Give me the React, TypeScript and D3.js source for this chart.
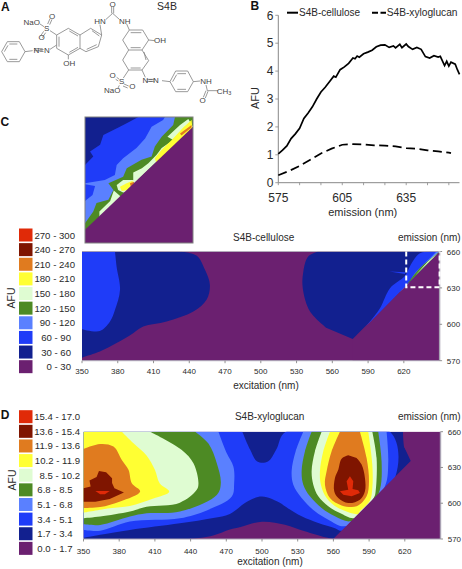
import React from "react";
import * as d3 from "d3";

type P = [number, number];

// ---------- panel B data ----------
const cellEm = [575,577,579,581,583,585,587,589,591,593,595,597,599,601,602,604,606,608,610,611,612,613,615,617,619,621,623,625,627,629,630,632,633,635,636,638,640,642,644,646,648,650,651,653,654,655,656,658,659,660];
const cellVal = [1.03,1.17,1.32,1.58,1.75,1.95,2.3,2.5,2.72,3.0,3.25,3.42,3.62,3.82,3.78,4.05,4.15,4.28,4.47,4.44,4.54,4.5,4.62,4.68,4.75,4.87,4.93,4.94,4.85,4.9,4.83,4.96,4.84,4.97,4.88,4.78,4.85,4.78,4.52,4.47,4.55,4.5,4.53,4.2,4.35,4.18,4.32,4.25,4.05,3.88];
const xyloEm = [575,580,585,590,595,600,605,610,615,620,625,630,635,640,645,650,655,656];
const xyloVal = [0.27,0.42,0.6,0.82,1.05,1.22,1.36,1.38,1.37,1.34,1.33,1.3,1.24,1.22,1.16,1.12,1.08,1.06];
const bYTicks = [0,1,2,3,4,5,6];
const bXLabels = [575,605,635];
const bXTicks = [575,585,595,605,615,625,635,645,655];

// ---------- legends ----------
const legendC = ["270 - 300","240 - 270","210 - 240","180 - 210","150 - 180","120 - 150","90 - 120","60 - 90","30 - 60","0 - 30"];
const legendD = ["15.4 - 17.0","13.6 - 15.4","11.9 - 13.6","10.2 - 11.9","8.5 - 10.2","6.8 - 8.5","5.1 - 6.8","3.4 - 5.1","1.7 - 3.4","0.0 - 1.7"];
const bandColors = ["#e02a08","#7f1500","#e07b1f","#ffff33","#dffcd2","#4d8a24","#5a80ff","#1f3cf8","#12208f","#6b2070"];
const RED=0,BROWN=1,ORANGE=2,YELLOW=3,PALE=4,GREEN=5,LTBLUE=6,BLUE=7,NAVY=8,PURPLE=9;

const emTicks = [660,630,600,570];
const exTicks = [350,380,410,440,470,500,530,560,590,620];

// ---------- panel C contour bands (excitation, emission) ----------
const cNavyLeft: P[] = [[350,572.5],[351,572.9],[365,577.6],[379,584.5],[392.9,592.7],[401.4,598.2],[421,602.3],[443.4,610.5],[454.5,620.2],[457.3,632.5],[453.2,644.9],[446,656.7],[430.8,660],[350,660]];
const cBlueLeft: P[] = [[350,596],[365,594.5],[373.5,602.3],[377.7,611.9],[381.9,628.4],[379,647.6],[377.7,660],[350,660]];
const cNavyRight: P[] = [[548.3,660],[539.9,656],[535.7,643.6],[535.2,629.8],[541.3,610.6],[555.3,596.9],[577.1,587.8],[650.3,660]];
const cBlueRight: P[] = [[646,660],[633.5,658.6],[626.5,650.4],[621,640],[608.4,629.8],[600,613.3],[591.6,602.3],[588,598],[650.3,660]];
const cBlueSpike: P[] = [[608,643.6],[621,643],[621,641.5]];
const cLtRight: P[] = [[647.5,660],[637.7,650.4],[629.3,642],[622.4,631],[616.8,626.8],[650.3,660]];
const cGreenRight: P[] = [[649.5,659.5],[633.5,646.3],[622.9,633],[650.3,660]];
const cPaleRight: P[] = [[648.5,659],[640,651.5],[633.5,644.5],[629.3,640],[645,655]];
const cMask: P[] = [[577,587],[650.3,660],[650.3,570],[577,570]];

// ---------- panel C inset bands ----------
const iBlue: P[] = [[634.8,660],[650,660],[650,630],[620,630],[620,648.6],[622.3,650.6],[621.4,651.8],[624.2,653.4],[625.1,655.7],[629.7,657.7],[632.5,658.9]];
const iLt: P[] = [[642.2,660],[641.7,659.3],[638.5,657.7],[636.7,654.9],[634.3,652.6],[630.6,650.2],[628.8,648.6],[628.3,646.2],[625.5,645],[620,644.2],[620,630],[650,630],[650,660]];
const iPocket: P[] = [[620,644],[622.8,643.6],[622.1,641.4],[620,640]];
const iGreen: P[] = [[645,660],[644.5,658.1],[641.3,655.3],[639.4,653],[638.5,650.6],[635.7,649.8],[631.6,647.8],[630.6,645.8],[626.5,644.2],[627.9,642.6],[626.5,640.3],[623.2,639.5],[622.3,637.5],[620,634.7],[620,630],[650,630],[650,660]];
const iPaleA: P[] = [[648.7,659.5],[646.4,658.1],[642.9,655.3],[644.5,654.5],[641.3,652.6],[639.9,651],[637.6,649],[635.8,647.8],[633.4,646.8],[633.4,644],[650,657.7]];
const iPaleB: P[] = [[633.9,645],[630.6,645],[628.8,643.8],[629.2,642.6],[630.6,642],[632.5,642.2]];
const iPaleC: P[] = [[628,642.5],[627,640],[624,637.5],[624,636],[630,641]];
const iYellowA: P[] = [[649.6,659.3],[647.3,657.5],[644.1,654.5],[641.3,652.2],[639.4,650.2],[640,648.5],[650,656]];
const iYellowB: P[] = [[633.4,644.9],[631.6,644.2],[629.7,643.4],[630.2,642.4],[632,642.6]];
const iOrangeA: P[] = [[649.6,658.1],[646.4,656.1],[646.8,655.6],[649.6,657.5]];
const iOrangeB: P[] = [[633.6,644.6],[632.5,644.2],[632.7,643.4],[633.6,644]];
const iMask: P[] = [[619.9,633.1],[650,657.7],[650,630],[620,630]];

// ---------- panel D contour bands ----------
const dNavy: P[] = [[350,570],[437,570],[459,573],[473,578],[482,580],[500,584.5],[519.3,582],[536,576.4],[553,571.4],[560,570],[626,636],[619.3,647.5],[618.5,660],[350,660]];
const dBlue: P[] = [[350,571],[364,573.5],[389,577.6],[431,583.2],[459,587.6],[473,591],[487.7,601.5],[500,605.6],[515.7,600],[519.3,597.4],[533.3,589],[547.3,583.4],[561.3,579],[567,577],[612,622],[607.5,660],[520,660],[512,645],[505,635],[496,635],[490,645],[483.5,660],[350,660]];
const dLtLeft: P[] = [[350,577.6],[364,577],[389,584.6],[431,587.4],[453.6,594],[474.6,605.6],[476.6,616.8],[476,630.7],[470.4,642],[463.4,660],[350,660]];
const dLtRight: P[] = [[534.7,660],[528.3,643.5],[524.9,626.8],[526.3,615.6],[533.3,604.4],[544.5,593.2],[555.7,586.2],[568.3,580.6],[580,585],[603.3,614.2],[606.1,635.1],[604.7,660]];
const dGreenLeft: P[] = [[350,582.3],[364,581.8],[389,588.8],[403,591.5],[431,593],[462,607],[465.4,616.8],[462,633.5],[455,650],[443.8,660],[350,660]];
const dGreenRight: P[] = [[541.7,660],[536.1,643.5],[533.3,626.8],[534.7,615.6],[540.3,605.8],[550.1,596],[561.3,589],[573.9,584.8],[590,595],[599,611],[600.5,635.1],[597.7,660]];
const dPaleLeft: P[] = [[350,587.4],[364,588.8],[389,593],[403,597],[431,600.5],[445,611],[446.6,616.8],[442.4,633.5],[432.6,644.7],[406,660],[350,660]];
const dPaleRight: P[] = [[550.1,660],[544.5,643.5],[541.7,626.8],[543.1,615.6],[547.3,605.8],[555.7,597.4],[565.5,591.8],[578.1,587.6],[594.3,605.2],[595.5,610],[596.3,638],[592.7,660]];
const dYellowLeft: P[] = [[350,592],[372,595.7],[389,597.7],[408.7,604],[422,609.7],[414,616.7],[410,628],[403,640],[392,650.3],[382.2,660],[350,660]];
const dYellowRight: P[] = [[557.1,660],[551.5,643.5],[548.7,626.8],[549.5,615.6],[554.3,604.4],[564.1,596],[580.9,591],[582.3,593.2],[590.7,602.1],[592.7,612.8],[592.7,632.4],[589.3,660]];
const dOrangeLeft: P[] = [[350,596],[364,596.8],[380.8,601.5],[397.6,609.9],[390.6,616.8],[387.8,628],[382.2,636.3],[375.2,647.5],[364,649.7],[350,645.5]];
const dOrangeRight: P[] = [[565.5,660],[558.5,643.5],[554.3,626.8],[552.9,615.6],[557.1,604.4],[566.9,598.2],[579.5,597.4],[587.9,605.8],[589.9,618.4],[587.9,638],[582.3,660]];
const dBrownLeft: P[] = [[350,601.3],[360,601.3],[372,603.5],[384,609],[376,612.5],[374,617],[374,621],[369,626],[363,627],[361,622],[355,619],[356,614],[350,612.5]];
const dBrownRight: P[] = [[572.5,640.2],[566.9,637.4],[564.1,628.1],[561.3,621.2],[560.7,610],[564.1,604.4],[572.5,600.2],[582.3,603],[586.5,610],[586.5,621.2],[583.7,632.4],[579.5,637.9]];
const dRedLeft: P[] = [[360,610.3],[372,610.3],[368,607.5],[364,607.5]];
const dRedRight: P[] = [[573.9,622.6],[571.1,618.4],[572.5,611.4],[565.5,610],[568.3,607.2],[575.3,605.8],[582.3,608.6],[580.9,610.8],[576.1,612],[576.7,618.4]];
const dMask: P[] = [[560,570],[650,570],[650,660],[618.5,660],[619.3,647.5],[625,635.5]];

// ---------- panel A structure, in reference-crop units ----------
const bonds: number[][] = [
  [5,155,22,125],[22,125,58,125],[58,125,75,155],[75,155,58,185],[58,185,22,185],[22,185,5,155],
  [28,132,52,132],[28,178,52,178],[13,155,24,136],[75,155,98,152],[102,146,128,146],[102,152,128,152],[150,148,170,135],
  [170,105,205,85],[205,85,240,105],[240,105,240,145],[240,145,205,165],[205,165,170,145],[170,145,170,105],[177,110,177,140],[208,93,234,108],[208,157,234,142],
  [240,105,272,85],[272,85,305,105],[305,105,295,140],[295,140,258,155],[258,155,240,145],[276,92,298,108],[260,148,290,134],
  [170,105,150,92],[143,72,150,56],[149,74,156,58],[137,98,127,113],[131,94,121,109],[120,72,132,80],
  [305,105,300,74],[318,58,338,40],[338,40,358,58],[335,40,335,20],[341,40,341,20],[380,72,388,90],
  [388,90,428,90],[428,90,446,120],[446,120,426,150],[426,150,386,150],[386,150,368,120],[368,120,388,90],[392,98,424,98],[392,143,422,143],
  [426,150,446,182],[446,182,426,210],[426,210,386,210],[386,210,368,180],[368,180,386,150],[432,156,438,180],[392,204,422,204],
  [446,120,464,122],[205,165,205,178],[386,210,370,234],[350,232,358,238],[347,238,355,243],[372,252,386,258],[369,258,383,264],[358,256,354,264],
  [426,210,436,232],[440,238,464,238],[440,244,464,244],[486,242,510,245],
  [510,245,527,213],[527,213,563,213],[563,213,580,245],[580,245,563,275],[563,275,527,275],[527,275,510,245],[532,221,558,221],[532,268,558,268],[518,245,530,224],
  [580,245,600,243],[618,255,622,272],[622,272,655,272],[618,272,610,292],[624,274,616,294],
];
const atoms: [string, number, number][] = [
  ["N=N",125,160],["NaO",95,76],["S",140,92],["O",156,57],["O",125,121],["OH",208,198],["HN",300,71],["O",338,20],["NH",374,71],
  ["OH",480,130],["S",365,252],["O",338,235],["O",397,267],["NaO",337,280],["N=N",452,250],["NH",618,251],["O",608,310],["CH",672,282],
];

const ink = "#2a2a2a";
const sans = "'Liberation Sans', Arial, sans-serif";
const axisGrey = "#a9a2b3";

const bX = d3.scaleLinear().domain([575, 660]).range([278.3, 452.9 + 6.6]);
const bY = d3.scaleLinear().domain([0, 6]).range([182.7, 15.3]);
const cX = d3.scaleLinear().domain([350, 650]).range([82, 439.6]);
const cY = d3.scaleLinear().domain([570, 660]).range([360.7, 251.5]);
const iX = d3.scaleLinear().domain([620, 650]).range([85, 193]);
const iY = d3.scaleLinear().domain([630, 660]).range([243, 117]);
const dX = d3.scaleLinear().domain([350, 650]).range([83.5, 440.5]);
const dY = d3.scaleLinear().domain([570, 660]).range([539, 431.7]);
const aS = d3.scaleLinear().domain([0, 720]).range([0, 240]);

// keep = how many trailing points stay straight; keep < 0 leaves the whole band angular.
function Band({ pts, i, x, y, keep = -1 }: { pts: P[]; i: number; x: d3.ScaleLinear<number, number>; y: d3.ScaleLinear<number, number>; keep?: number }) {
  const straight = d3.line<P>().x((d) => x(d[0])).y((d) => y(d[1]));
  let d: string;
  if (keep < 0) {
    d = (straight(pts) ?? "") + "Z";
  } else {
    const run = pts.slice(0, pts.length - keep);
    const rest = pts.slice(pts.length - keep);
    const curved = d3.line<P>().x((q) => x(q[0])).y((q) => y(q[1])).curve(d3.curveCatmullRom.alpha(0.5))(run) ?? "";
    d = curved + rest.map((q) => `L${x(q[0])},${y(q[1])}`).join("") + "Z";
  }
  return <path d={d} fill={bandColors[i]} />;
}

function Legend({ labels, top, full, lo, hi }: { labels: string[]; top: number; full: number; lo: number; hi: number }) {
  return (
    <g fontFamily={sans} fontSize={9.6} fill={ink}>
      {labels.map((l, k) => {
        const cy = top + k * 14.63;
        return (
          <g key={l}>
            <rect x={19} y={cy - 6.5} width={13.5} height={13} fill={bandColors[k]} />
            <text x={l.length >= full ? hi : lo} y={cy + 3.5} textAnchor="end">{l}</text>
          </g>
        );
      })}
    </g>
  );
}

function Heat({ x, y, bottomY, rightX, title, titleX, titleY, xLabelX, xLabelY, tickY }: any) {
  return (
    <g fontFamily={sans} fill={ink}>
      <line x1={rightX} x2={rightX} y1={y(660)} y2={y(570)} stroke={axisGrey} strokeWidth={1.4} />
      <line x1={x(350)} x2={rightX} y1={bottomY} y2={bottomY} stroke={axisGrey} strokeWidth={1} />
      {emTicks.map((t) => (
        <g key={t}>
          <line x1={rightX} x2={rightX + 2.5} y1={y(t)} y2={y(t)} stroke="#777" strokeWidth={0.8} />
          <text x={rightX + 7.2} y={y(t) + 3} fontSize={8}>{t}</text>
        </g>
      ))}
      {exTicks.map((t) => (
        <g key={t}>
          <line x1={x(t)} x2={x(t)} y1={bottomY} y2={bottomY + 2.5} stroke="#777" strokeWidth={0.8} />
          <text x={x(t)} y={tickY} fontSize={8} textAnchor="middle">{t}</text>
        </g>
      ))}
      <text x={titleX} y={titleY} fontSize={10} textAnchor="middle">{title}</text>
      <text x={460.7} y={titleY} fontSize={10} textAnchor="end">emission (nm)</text>
      <text x={xLabelX} y={xLabelY} fontSize={10} textAnchor="middle">excitation (nm)</text>
    </g>
  );
}

export default function App() {
  const cellLine = d3.line<number>().x((_, k) => bX(cellEm[k])).y((d) => bY(d));
  const xyloLine = d3.line<number>().x((_, k) => bX(xyloEm[k])).y((d) => bY(d));
  return (
    <svg width={462} height={569} viewBox="0 0 462 569" style={{ position: "absolute", left: 0, top: 0, background: "#fff" }}>
      <defs>
        <clipPath id="cc"><rect x={cX(350)} y={cY(660)} width={cX(650) - cX(350)} height={cY(570) - cY(660)} /></clipPath>
        <clipPath id="ci"><rect x={iX(620)} y={iY(660)} width={iX(650) - iX(620)} height={iY(630) - iY(660)} /></clipPath>
        <clipPath id="cd"><rect x={dX(350)} y={dY(660)} width={dX(650) - dX(350)} height={dY(570) - dY(660)} /></clipPath>
      </defs>

      {/* Panel letters */}
      <g fontFamily={sans} fontWeight="bold" fontSize={12} fill="#111">
        <text x={1} y={11}>A</text>
        <text x={250.5} y={9.8}>B</text>
        <text x={0.5} y={125.7}>C</text>
        <text x={0.8} y={419}>D</text>
      </g>

      {/* Panel A */}
      <g stroke="#808080" strokeWidth={0.8} fill="none">
        {bonds.map((b, k) => (
          <line key={k} x1={aS(b[0])} y1={aS(b[1])} x2={aS(b[2])} y2={aS(b[3])} />
        ))}
      </g>
      <g fontFamily={sans} fontSize={8} fill="#444" textAnchor="middle">
        {atoms.map(([t, x, y], k) => (
          <text key={k} x={aS(x)} y={aS(y)}>
            {t}
            {t === "CH" ? <tspan fontSize={5.5} dy={1}>3</tspan> : null}
          </text>
        ))}
      </g>
      <text x={167} y={9.5} fontFamily={sans} fontSize={10.5} fill={ink} textAnchor="middle">S4B</text>

      {/* Panel B */}
      <g fontFamily={sans} fill={ink}>
        <line x1={bX(575)} x2={bX(575)} y1={bY(0)} y2={bY(6)} stroke="#888" strokeWidth={1} />
        <line x1={bX(575)} x2={bX(660)} y1={bY(0)} y2={bY(0)} stroke="#888" strokeWidth={1} />
        {bYTicks.map((t) => (
          <g key={t}>
            <line x1={bX(575) - 3} x2={bX(575)} y1={bY(t)} y2={bY(t)} stroke="#888" strokeWidth={0.8} />
            <text x={273.5} y={bY(t) + 4.2} fontSize={12} textAnchor="end">{t}</text>
          </g>
        ))}
        {bXTicks.map((t) => (
          <line key={t} x1={bX(t)} x2={bX(t)} y1={bY(0)} y2={bY(0) + 2.5} stroke="#888" strokeWidth={0.8} />
        ))}
        {bXLabels.map((t) => (
          <text key={t} x={bX(t)} y={201.5} fontSize={12} textAnchor="middle">{t}</text>
        ))}
        <text x={362.7} y={215.5} fontSize={11} textAnchor="middle">emission (nm)</text>
        <text transform="translate(259,98) rotate(-90)" fontSize={11} textAnchor="middle">AFU</text>
        <line x1={287} x2={298} y1={12.7} y2={12.7} stroke="#000" strokeWidth={2} />
        <text x={299} y={16} fontSize={10}>S4B-cellulose</text>
        <line x1={372} x2={386} y1={12.7} y2={12.7} stroke="#000" strokeWidth={2} strokeDasharray="6,2.5" />
        <text x={386.7} y={16} fontSize={10.2}>S4B-xyloglucan</text>
      </g>
      <path d={cellLine(cellVal) ?? ""} fill="none" stroke="#000" strokeWidth={1.7} />
      <path d={xyloLine(xyloVal) ?? ""} fill="none" stroke="#000" strokeWidth={1.7} strokeDasharray="9,4.5" />

      {/* Panel C inset */}
      <g clipPath="url(#ci)">
        <rect x={iX(620)} y={iY(660)} width={iX(650) - iX(620)} height={iY(630) - iY(660)} fill={bandColors[NAVY]} />
        <Band pts={iBlue} i={BLUE} x={iX} y={iY} />
        <Band pts={iLt} i={LTBLUE} x={iX} y={iY} />
        <Band pts={iPocket} i={BLUE} x={iX} y={iY} />
        <Band pts={iGreen} i={GREEN} x={iX} y={iY} />
        <Band pts={iPaleA} i={PALE} x={iX} y={iY} />
        <Band pts={iPaleB} i={PALE} x={iX} y={iY} />
        <Band pts={iPaleC} i={PALE} x={iX} y={iY} />
        <Band pts={iYellowA} i={YELLOW} x={iX} y={iY} />
        <Band pts={iYellowB} i={YELLOW} x={iX} y={iY} />
        <Band pts={iOrangeA} i={ORANGE} x={iX} y={iY} />
        <Band pts={iOrangeB} i={ORANGE} x={iX} y={iY} />
        <Band pts={iMask} i={PURPLE} x={iX} y={iY} />
      </g>
      <rect x={iX(620)} y={iY(660)} width={iX(650) - iX(620)} height={iY(630) - iY(660)} fill="none" stroke="#808080" strokeWidth={1} />

      {/* Panel C main */}
      <Legend labels={legendC} top={235} full={8} lo={71} hi={75} />
      <text transform="translate(15,298) rotate(-90)" fontFamily={sans} fontSize={10.5} fill={ink} textAnchor="middle">AFU</text>
      <g clipPath="url(#cc)">
        <rect x={cX(350)} y={cY(660)} width={cX(650) - cX(350)} height={cY(570) - cY(660)} fill={bandColors[PURPLE]} />
        <Band pts={cNavyLeft} i={NAVY} x={cX} y={cY} keep={1} />
        <Band pts={cBlueLeft} i={BLUE} x={cX} y={cY} keep={1} />
        <Band pts={cNavyRight} i={NAVY} x={cX} y={cY} keep={2} />
        <Band pts={cBlueRight} i={BLUE} x={cX} y={cY} keep={1} />
        <Band pts={cBlueSpike} i={BLUE} x={cX} y={cY} />
        <Band pts={cLtRight} i={LTBLUE} x={cX} y={cY} keep={1} />
        <Band pts={cGreenRight} i={GREEN} x={cX} y={cY} keep={1} />
        <Band pts={cPaleRight} i={PALE} x={cX} y={cY} />
        <Band pts={cMask} i={PURPLE} x={cX} y={cY} />
      </g>
      <line x1={cX(350)} x2={cX(650)} y1={cY(660)} y2={cY(660)} stroke={axisGrey} strokeWidth={0.8} />
      <Heat x={cX} y={cY} bottomY={cY(570)} rightX={cX(650)} title="S4B-cellulose" titleX={263.7} titleY={241} xLabelX={266} xLabelY={389} tickY={373.5} />
      <path d={`M${cX(622)},${cY(660)}V${cY(630.5)}H${cX(650)}V${cY(660)}`} fill="none" stroke="#fff" strokeWidth={2} strokeDasharray="5,3" />

      {/* Panel D */}
      <Legend labels={legendD} top={416.7} full={10} lo={72.5} hi={80} />
      <text transform="translate(16,480) rotate(-90)" fontFamily={sans} fontSize={10.5} fill={ink} textAnchor="middle">AFU</text>
      <g clipPath="url(#cd)">
        <rect x={dX(350)} y={dY(660)} width={dX(650) - dX(350)} height={dY(570) - dY(660)} fill={bandColors[PURPLE]} />
        <Band pts={dNavy} i={NAVY} x={dX} y={dY} keep={4} />
        <Band pts={dBlue} i={BLUE} x={dX} y={dY} keep={1} />
        <Band pts={dLtLeft} i={LTBLUE} x={dX} y={dY} keep={1} />
        <Band pts={dLtRight} i={LTBLUE} x={dX} y={dY} keep={0} />
        <Band pts={dGreenLeft} i={GREEN} x={dX} y={dY} keep={1} />
        <Band pts={dGreenRight} i={GREEN} x={dX} y={dY} keep={0} />
        <Band pts={dPaleLeft} i={PALE} x={dX} y={dY} keep={1} />
        <Band pts={dPaleRight} i={PALE} x={dX} y={dY} keep={0} />
        <Band pts={dYellowLeft} i={YELLOW} x={dX} y={dY} keep={1} />
        <Band pts={dYellowRight} i={YELLOW} x={dX} y={dY} keep={0} />
        <Band pts={dOrangeLeft} i={ORANGE} x={dX} y={dY} keep={0} />
        <Band pts={dOrangeRight} i={ORANGE} x={dX} y={dY} keep={0} />
        <Band pts={dBrownLeft} i={BROWN} x={dX} y={dY} />
        <Band pts={dBrownRight} i={BROWN} x={dX} y={dY} keep={0} />
        <Band pts={dRedLeft} i={RED} x={dX} y={dY} />
        <Band pts={dRedRight} i={RED} x={dX} y={dY} />
        <Band pts={dMask} i={PURPLE} x={dX} y={dY} />
      </g>
      <Heat x={dX} y={dY} bottomY={dY(570)} rightX={dX(650)} title="S4B-xyloglucan" titleX={269.7} titleY={420} xLabelX={270} xLabelY={565} tickY={553.5} />
    </svg>
  );
}
